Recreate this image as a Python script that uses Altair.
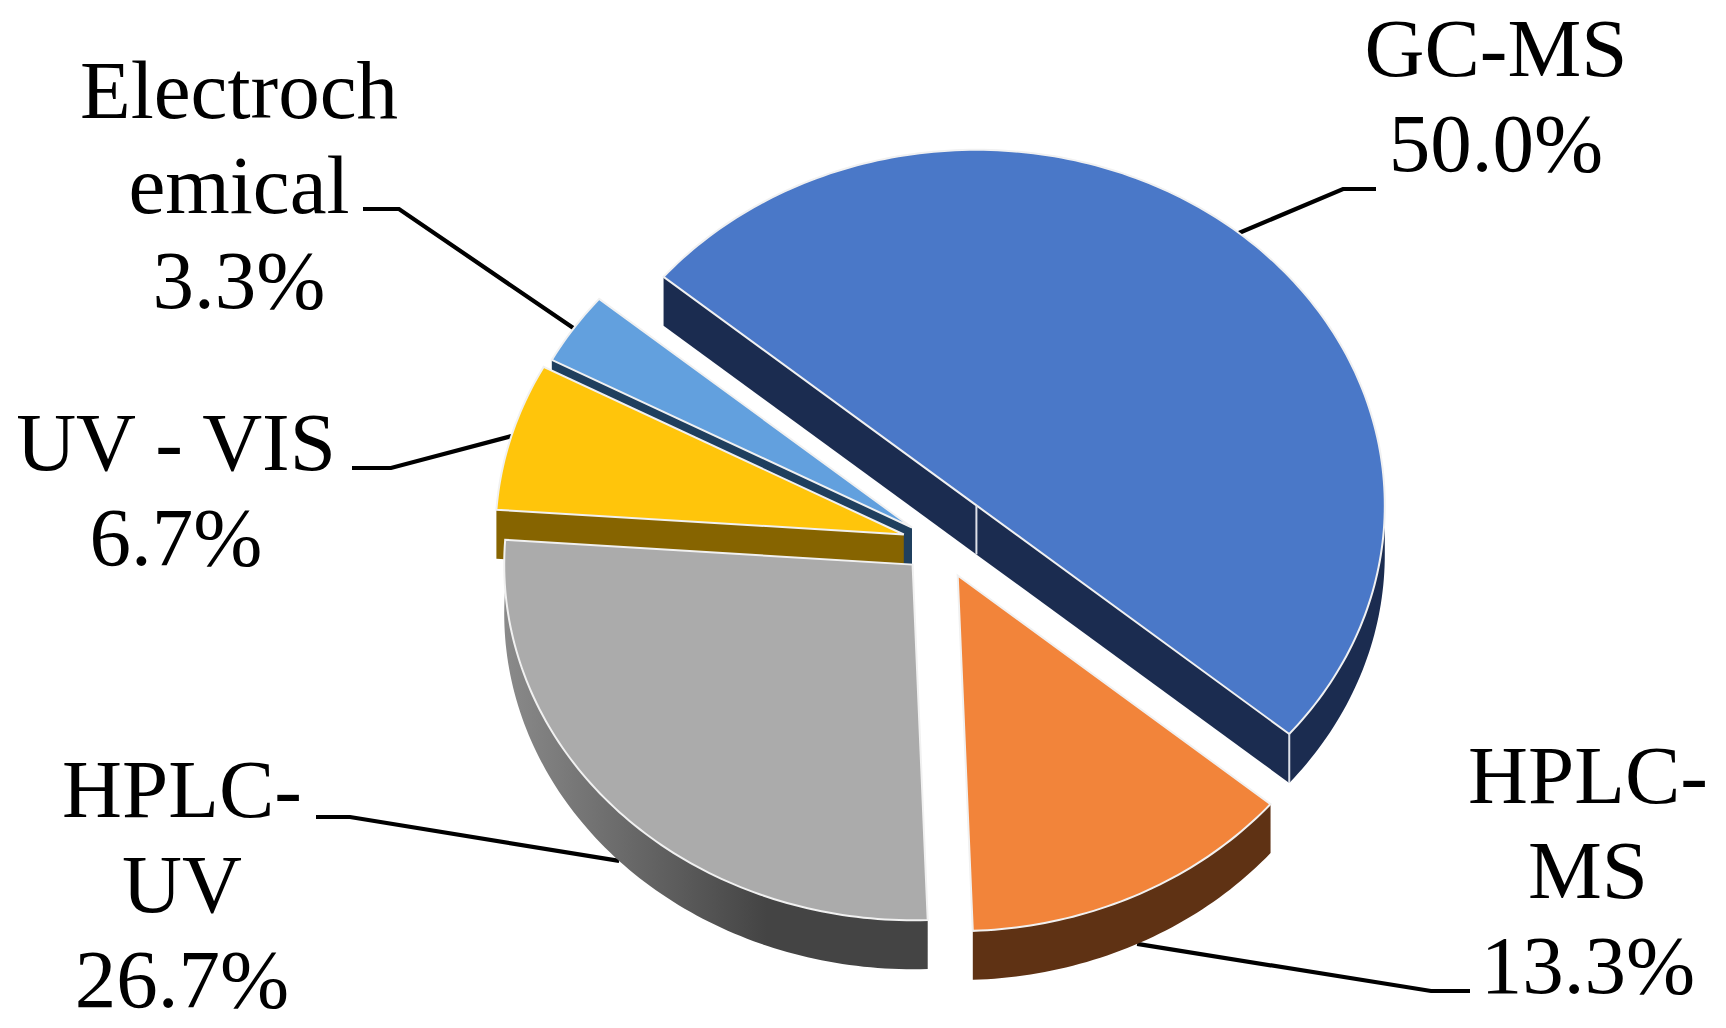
import math
import altair as alt

# ---- chart values ----
names = ["GC-MS", "HPLC-MS", "HPLC-UV", "UV - VIS", "Electrochemical"]
shares = [50.0, 13.3, 26.7, 6.7, 3.3]
label_lines = [
    ["GC-MS", "50.0%"],
    ["HPLC-", "MS", "13.3%"],
    ["HPLC-", "UV", "26.7%"],
    ["UV - VIS", "6.7%"],
    ["Electroch", "emical", "3.3%"],
]
top_colors = ["#4A78C8", "#F2843A", "#ABABAB", "#FFC50B", "#62A0DE"]
wall_colors = ["#1B2C50", "#5F3214", "#444444", "#866400", "#1F3F5E"]

# ---- layout (page pixels) ----
RX, RY, DEPTH = 408.4, 355.6, 49.0
START_ANGLE = -50.0
apex_x = [976.4, 957.7, 912.6, 903.8, 912.0]
apex_y = [505.4, 575.5, 564.6, 534.5, 527.5]
label_x = [1496, 1588, 182, 176, 239]
label_y = [76, 803, 817, 470, 118]
LINE_STEP = 95
FONT_SIZE = 83
# label-side ends of the leader lines: (end, elbow)
leader_ends = [
    ((1376, 189), (1343, 189)),
    ((1470, 991), (1431, 991)),
    ((316, 817), (350, 817)),
    ((352, 468), (391, 468)),
    ((363, 209), (399, 209)),
]
W, H = 1710, 1012


def total_angles():
    out, a = [], START_ANGLE
    tot = sum(shares)
    for v in shares:
        out.append((a, a + 360.0 * v / tot))
        a += 360.0 * v / tot
    return out


angles = total_angles()


def rim(i, t, drop=0.0):
    r = math.radians(t)
    return [apex_x[i] + RX * math.sin(r), apex_y[i] - RY * math.cos(r) + drop]


def arc(i, a, b, drop=0.0):
    n = max(2, int(abs(b - a)))
    return [rim(i, a + (b - a) * k / n, drop) for k in range(n + 1)]


def poly(points, fill, stroke=None, width=0.0):
    return {
        "type": "Feature",
        "properties": {"fill": fill, "stroke": stroke or fill, "width": width},
        "geometry": {"type": "Polygon", "coordinates": [points + [points[0]]]},
    }


def line(points, stroke, width):
    return {
        "type": "Feature",
        "properties": {"stroke": stroke, "width": width},
        "geometry": {"type": "LineString", "coordinates": points},
    }


def top(i):
    a, b = angles[i]
    return poly([[apex_x[i], apex_y[i]]] + arc(i, a, b), top_colors[i], "#F1F1F1", 2.0)


def outer_wall(i, a, b):
    return poly(arc(i, a, b) + arc(i, b, a, DEPTH), wall_colors[i])


def cut_wall(i, pts):
    return poly(pts + [[p[0], p[1] + DEPTH] for p in reversed(pts)], wall_colors[i])


ap = [[apex_x[i], apex_y[i]] for i in range(5)]
a0, a1 = angles[0]

back = [
    cut_wall(4, [rim(4, angles[4][0]), ap[4]]),
    top(4),
    cut_wall(3, [rim(3, angles[3][0]), ap[3]]),
    top(3),
]
gray_wall = [outer_wall(2, *angles[2])]
front = [
    top(2),
    outer_wall(1, *angles[1]),
    top(1),
    outer_wall(0, 90.0, a1),
    cut_wall(0, [rim(0, a0), ap[0], rim(0, a1)]),
    top(0),
]
seams = [
    line([ap[0], [ap[0][0], ap[0][1] + DEPTH]], "#DDE0E8", 2.0),
    line([rim(0, a1), rim(0, a1, DEPTH)], "#DDE0E8", 2.0),
]

leaders = []
for i in range(5):
    mid = sum(angles[i]) / 2
    # front slices attach to the wall's lower rim
    start = rim(i, mid, DEPTH if i in (1, 2) else 0.0)
    end, elbow = leader_ends[i]
    leaders.append(line([list(end), list(elbow), start], "#000000", 4.2))

proj = alt.Projection(type="identity", scale=1, translate=[-8, -8])


def shapes(features, **kw):
    return (
        alt.Chart(alt.InlineData(values=features))
        .mark_geoshape(**kw)
        .encode(
            fill=alt.Fill("properties.fill:N", scale=None),
            stroke=alt.Stroke("properties.stroke:N", scale=None),
            strokeWidth=alt.StrokeWidth("properties.width:Q", scale=None),
        )
        .project(**proj.to_dict())
    )


def strokes(features):
    return (
        alt.Chart(alt.InlineData(values=features))
        .mark_geoshape(filled=False, strokeJoin="miter")
        .encode(
            stroke=alt.Stroke("properties.stroke:N", scale=None),
            strokeWidth=alt.StrokeWidth("properties.width:Q", scale=None),
        )
        .project(**proj.to_dict())
    )


gray_fill = alt.LinearGradient(
    gradient="linear",
    x1=0, x2=1, y1=0, y2=0,
    stops=[
        alt.GradientStop(color="#8A8A8A", offset=0),
        alt.GradientStop(color="#444444", offset=0.62),
        alt.GradientStop(color="#444444", offset=1),
    ],
)
gray_layer = (
    alt.Chart(alt.InlineData(values=gray_wall))
    .mark_geoshape(fill=gray_fill, strokeWidth=0)
    .project(**proj.to_dict())
)

rows = []
for i in range(5):
    for k, txt in enumerate(label_lines[i]):
        rows.append({"line": txt, "x": label_x[i], "y": label_y[i] + k * LINE_STEP})

text = (
    alt.Chart(alt.Data(values=rows))
    .mark_text(font="Liberation Serif", fontSize=FONT_SIZE, baseline="alphabetic",
               align="center", color="#000000")
    .encode(
        x=alt.X("x:Q", scale=alt.Scale(domain=[8, 8 + W]), axis=None),
        y=alt.Y("y:Q", scale=alt.Scale(domain=[8 + H, 8]), axis=None),
        text="line:N",
    )
)

chart = (
    alt.layer(strokes(leaders), shapes(back), gray_layer, shapes(front), strokes(seams), text)
    .properties(width=W, height=H, padding=0,
                autosize=alt.AutoSizeParams(type="none"), background="#FFFFFF")
    .configure_view(stroke=None)
    .resolve_scale(fill="independent", stroke="independent", strokeWidth="independent")
)
chart.save("out.html", embed_options={"renderer": "svg", "actions": False})
